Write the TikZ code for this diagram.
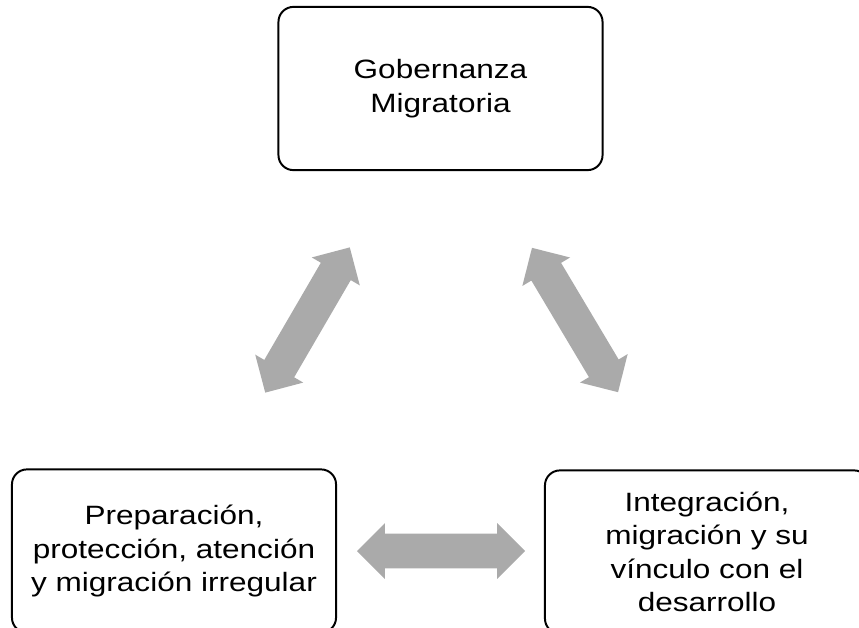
\documentclass[tikz,border=0pt]{standalone}
\usepackage{fontspec}
\setmainfont[FakeStretch=1.19]{Liberation Sans}
\usetikzlibrary{shapes.arrows}
\definecolor{arrowgray}{RGB}{170,170,170}
\begin{document}
\begin{tikzpicture}[x=0.025cm, y=-0.025cm,
		box/.style={draw, line width=1.4pt, rounded corners=0.375cm, minimum width=8.1cm, minimum height=4.08cm, align=center, font=\fontsize{18.85pt}{23.7pt}\selectfont},
		dblarrow/.style={double arrow, fill=arrowgray, inner xsep=0pt, inner ysep=0.425cm, minimum height=4.2cm, double arrow head extend=0.2625cm}]
	% page of the reference (the boxes run over its edges)
	\useasboundingbox (0,0) rectangle (859,627);
	% boxes
	\node[box] (gob) at (440.5,88.5) {Gobernanza\\Migratoria};
	\node[box] (prep) at (174,551) {Preparación,\\protección, atención\\y migración irregular};
	\node[box] (integ) at (707,552) {Integración,\\migración y su\\vínculo con el\\desarrollo};
	% double arrows between the boxes
	\node[dblarrow, rotate=59.8] (arrow_left) at (307.5,320) {};
	\node[dblarrow, rotate=-59.2] (arrow_right) at (575,320) {};
	\node[dblarrow] (arrow_bottom) at (441,551) {};
\end{tikzpicture}
\end{document}
